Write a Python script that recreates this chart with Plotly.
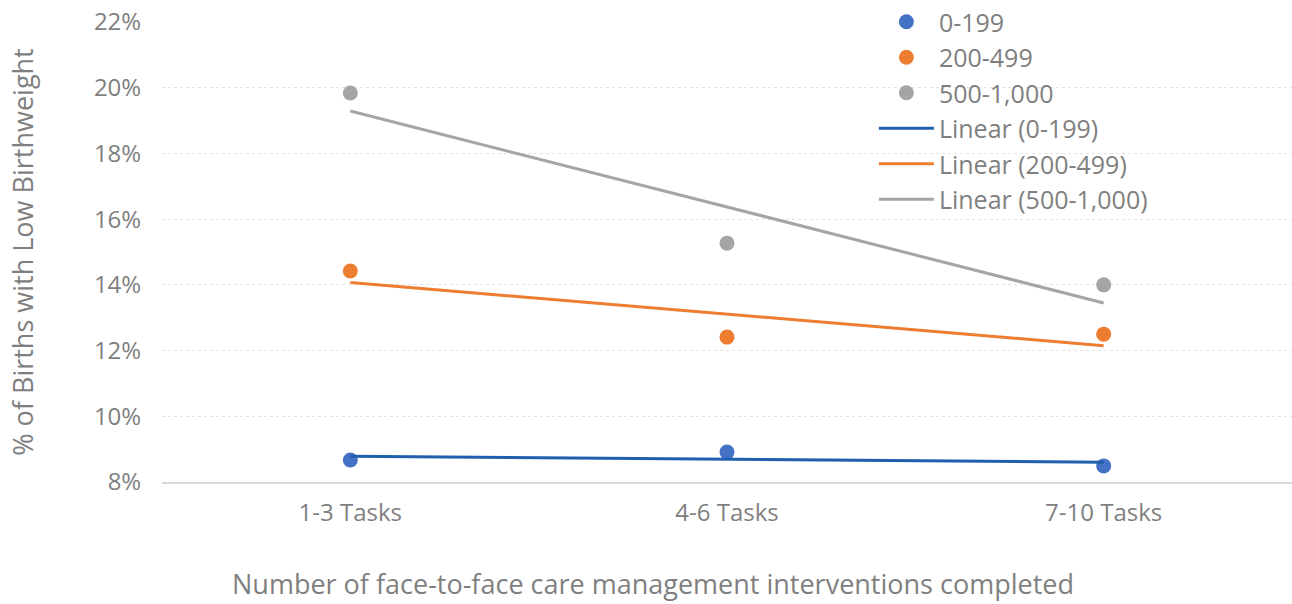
import numpy as np
import plotly.graph_objects as go

categories = ["1-3 Tasks", "4-6 Tasks", "7-10 Tasks"]
series_names = ["0-199", "200-499", "500-1,000"]
vals_0_199 = [8.67, 8.91, 8.49]
vals_200_499 = [14.42, 12.41, 12.50]
vals_500_1000 = [19.84, 15.27, 14.00]
y_ticks = [8, 10, 12, 14, 16, 18, 20, 22]
y_tick_labels = ["8%", "10%", "12%", "14%", "16%", "18%", "20%", "22%"]
x_title = "Number of face-to-face care management interventions completed"
y_title = "% of Births with Low Birthweight"

marker_colors = ["#4472C4", "#ED7D31", "#A5A5A5"]
line_colors = ["#1F5FAD", "#ED7D31", "#A5A5A5"]
all_vals = [vals_0_199, vals_200_499, vals_500_1000]

FONT = "Open Sans"
GREY = "#7F7F7F"

fig = go.Figure()
for name, vals, col in zip(series_names, all_vals, marker_colors):
    fig.add_trace(go.Scatter(
        x=categories, y=vals, mode="markers", name=name,
        marker=dict(color=col, size=15),
    ))

idx = np.arange(len(categories))
for name, vals, col in zip(series_names, all_vals, line_colors):
    slope, intercept = np.polyfit(idx, np.array(vals), 1)
    fit = slope * idx + intercept
    fig.add_trace(go.Scatter(
        x=categories, y=fit, mode="lines", name=f"Linear ({name})",
        line=dict(color=col, width=3),
    ))

fig.add_annotation(
    text=x_title, xref="paper", yref="paper", x=0.4346, y=-0.2645,
    xanchor="center", yanchor="bottom", showarrow=False,
    font=dict(size=27, color=GREY, family=FONT),
)

fig.update_layout(
    width=1292, height=604,
    margin=dict(l=162, r=0, t=22, b=122, autoexpand=False),
    paper_bgcolor="white", plot_bgcolor="white",
    font=dict(family=FONT, color=GREY, size=22),
    showlegend=True,
    legend=dict(
        x=0.63, y=1.05, xanchor="left", yanchor="top",
        bgcolor="rgba(0,0,0,0)", font=dict(size=25, color=GREY),
        itemwidth=55, tracegroupgap=0,
    ),
    xaxis=dict(
        type="category", range=[-0.5, 2.5],
        showgrid=False, showline=True, linecolor="#D9D9D9", linewidth=2,
        ticks="outside", ticklen=8, tickcolor="rgba(0,0,0,0)",
        tickfont=dict(size=24, color=GREY),
    ),
    yaxis=dict(
        range=[8, 22], tickvals=y_ticks, ticktext=y_tick_labels,
        showgrid=True, gridcolor="#E3E3E3", griddash="dot", gridwidth=1,
        zeroline=False, showline=False,
        ticks="outside", ticklen=15, tickcolor="rgba(0,0,0,0)",
        tickfont=dict(size=24, color=GREY),
        title=dict(text=y_title, font=dict(size=27, color=GREY), standoff=52),
    ),
)

fig.write_html("out.html")
